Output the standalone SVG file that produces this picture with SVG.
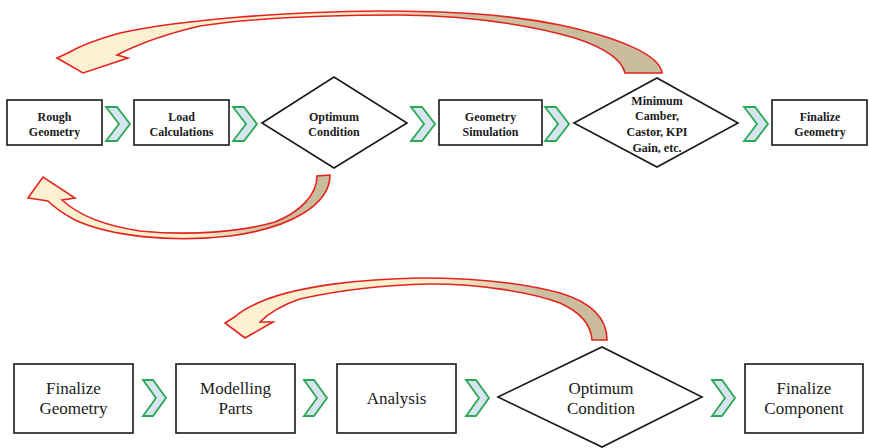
<svg xmlns="http://www.w3.org/2000/svg" width="870" height="448" viewBox="0 0 870 448">
  <style>
    .box { fill: #ffffff; stroke: #1a1a1a; stroke-width: 1.6; }
    .dia { fill: #ffffff; stroke: #1a1a1a; stroke-width: 1.6; }
    .chev { fill: #d7e5ef; stroke: #2aa853; stroke-width: 1.8; stroke-linejoin: miter; }
    .loop { stroke: #e2231e; stroke-width: 1.6; stroke-linejoin: miter; }
    .t1 { font-family: "Liberation Serif", "Times New Roman", serif; font-size: 12px; font-weight: bold; fill: #1a1a1a; text-anchor: middle; }
    .t2 { font-family: "Liberation Serif", "Times New Roman", serif; font-size: 17px; fill: #1a1a1a; text-anchor: middle; }
  </style>
  <defs>
    <path id="chevA" class="chev" d="M0,0 H11 L24,17 L11,34 H0 L13,17 Z"/>
    <path id="chevB" class="chev" d="M0,0 H10 L23,18 L10,36 H0 L13,18 Z"/>
    <linearGradient id="gLoop1" gradientUnits="userSpaceOnUse" x1="663" y1="0" x2="60" y2="0">
      <stop offset="0" stop-color="#c9bc9c"/>
      <stop offset="0.32" stop-color="#cdbf9f"/>
      <stop offset="0.52" stop-color="#fbefcf"/>
      <stop offset="1" stop-color="#fdf1d2"/>
    </linearGradient>
    <linearGradient id="gLoop2" gradientUnits="userSpaceOnUse" x1="330" y1="0" x2="30" y2="0">
      <stop offset="0" stop-color="#c9bc9c"/>
      <stop offset="0.2" stop-color="#cdbf9f"/>
      <stop offset="0.45" stop-color="#fbefcf"/>
      <stop offset="1" stop-color="#fdf1d2"/>
    </linearGradient>
    <linearGradient id="gLoop3" gradientUnits="userSpaceOnUse" x1="607" y1="0" x2="225" y2="0">
      <stop offset="0" stop-color="#c9bc9c"/>
      <stop offset="0.18" stop-color="#cdbf9f"/>
      <stop offset="0.45" stop-color="#fbefcf"/>
      <stop offset="1" stop-color="#fdf1d2"/>
    </linearGradient>
  </defs>

  <!-- upper process chain -->
  <g id="rough-geometry">
    <rect class="box" x="7" y="100" width="95" height="45"/>
    <text class="t1" x="54.5" y="120.5">Rough</text>
    <text class="t1" x="54.5" y="136">Geometry</text>
  </g>
  <g id="load-calculations">
    <rect class="box" x="134" y="100" width="95" height="45"/>
    <text class="t1" x="181.5" y="120.5">Load</text>
    <text class="t1" x="181.5" y="136">Calculations</text>
  </g>
  <g id="optimum-condition-1">
    <polygon class="dia" points="262,123 334,77 407,123 334,168"/>
    <text class="t1" x="334" y="120.5">Optimum</text>
    <text class="t1" x="334" y="136">Condition</text>
  </g>
  <g id="geometry-simulation">
    <rect class="box" x="439" y="100" width="103" height="45"/>
    <text class="t1" x="490.5" y="120.5">Geometry</text>
    <text class="t1" x="490.5" y="136">Simulation</text>
  </g>
  <g id="minimum-camber">
    <polygon class="dia" points="574,123 657,78 738,123 657,167"/>
    <text class="t1" x="657" y="104.5">Minimum</text>
    <text class="t1" x="657" y="120">Camber,</text>
    <text class="t1" x="657" y="136">Castor, KPI</text>
    <text class="t1" x="657" y="151.5">Gain, etc.</text>
  </g>
  <g id="finalize-geometry-1">
    <rect class="box" x="772" y="100" width="95" height="45"/>
    <text class="t1" x="820" y="120.5">Finalize</text>
    <text class="t1" x="820" y="136">Geometry</text>
  </g>

  <!-- lower process chain -->
  <g id="finalize-geometry-2">
    <rect class="box" x="14" y="364" width="119" height="69"/>
    <text class="t2" x="73.5" y="394">Finalize</text>
    <text class="t2" x="73.5" y="414">Geometry</text>
  </g>
  <g id="modelling-parts">
    <rect class="box" x="176" y="364" width="119" height="69"/>
    <text class="t2" x="235.5" y="394">Modelling</text>
    <text class="t2" x="235.5" y="414">Parts</text>
  </g>
  <g id="analysis">
    <rect class="box" x="337" y="364" width="119" height="69"/>
    <text class="t2" x="396.5" y="404">Analysis</text>
  </g>
  <g id="optimum-condition-2">
    <polygon class="dia" points="498,397 602,347 702,397 602,447"/>
    <text class="t2" x="601" y="394">Optimum</text>
    <text class="t2" x="601" y="414">Condition</text>
  </g>
  <g id="finalize-component">
    <rect class="box" x="745" y="364" width="118" height="69"/>
    <text class="t2" x="804" y="394">Finalize</text>
    <text class="t2" x="804" y="414">Component</text>
  </g>

  <g id="connectors">
    <!-- forward chevrons, upper chain -->
    <use href="#chevA" x="106" y="107"/>
    <use href="#chevA" x="233" y="107"/>
    <use href="#chevA" x="411" y="107"/>
    <use href="#chevA" x="545" y="107"/>
    <use href="#chevA" x="744" y="107"/>
    <!-- forward chevrons, lower chain -->
    <use href="#chevB" x="143" y="380"/>
    <use href="#chevB" x="304" y="380"/>
    <use href="#chevB" x="466" y="380"/>
    <use href="#chevB" x="712" y="380"/>

    <!-- feedback loop: minimum camber back to rough geometry -->
    <path class="loop" fill="url(#gLoop1)" d="M662,73 C660,55 620,38 560,25 C500,13 440,11 380,11 C280,12 180,20 120,33 C95,40 80,46 70,52 L57,58 L83,73 L128,58 L117,55 C140,43 170,33 200,26 C260,17 330,15 400,15 C470,16 530,25 575,38 C605,48 622,60 625,73 Z"/>
    <!-- feedback loop: optimum condition back to rough geometry -->
    <path class="loop" fill="url(#gLoop2)" d="M330,175 C330,205 290,228 230,236 C170,243 110,236 75,220 C62,213 54,207 48,201 L28,198 L43,177 L75,198 L62,200 C75,212 100,225 140,231 C190,236 240,232 275,222 C300,212 317,195 317,176 Z"/>
    <!-- feedback loop: optimum condition back to modelling parts -->
    <path class="loop" fill="url(#gLoop3)" d="M607,340 C607,318 590,302 560,293 C520,282 470,278 420,278 C360,279 300,286 265,300 C250,306 240,312 236,316 L225,323 L245,338 L273,322 L260,322 C270,312 285,304 300,299 C340,290 380,285 430,284 C480,284 530,292 560,303 C580,312 591,325 592,340 Z"/>
  </g>
</svg>
